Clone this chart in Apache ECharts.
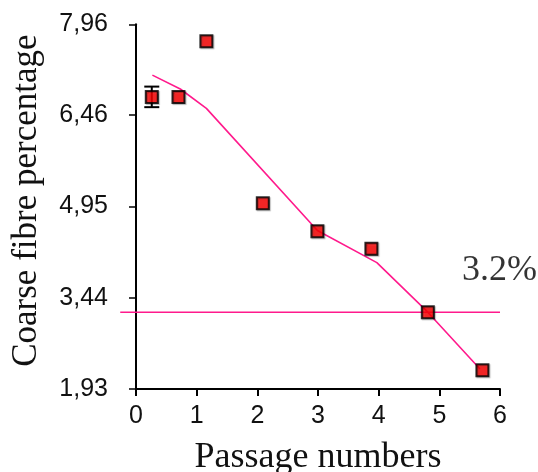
<!DOCTYPE html>
<html>
<head>
<meta charset="utf-8">
<script src="https://cdn.jsdelivr.net/npm/echarts@6/dist/echarts.min.js"></script>
<style>html,body{margin:0;padding:0;background:#fff;overflow:hidden;}#c{width:538px;height:472px;}</style>
</head>
<body>
<div id="c"></div>
<script>
// Data
const passageX = [0.26, 0.70, 1.16, 2.09, 2.99, 3.88, 4.81, 5.71];
const coarsePct = [6.76, 6.76, 7.68, 5.00, 4.54, 4.25, 3.20, 2.24];
const errorPct  = [0.17, 0, 0, 0, 0, 0, 0, 0];
const trendX = [0.27, 0.73, 1.16, 2.99, 3.97, 4.81, 5.67];
const trendY = [7.12, 6.89, 6.57, 4.55, 4.02, 3.20, 2.26];
const thresholdValue = 3.2;
const thresholdX = [-0.26, 6];
const thresholdLabel = '3.2%';
const yTicks = [1.93, 3.44, 4.95, 6.46, 7.96];
const xTicks = [0, 1, 2, 3, 4, 5, 6];

const pink = '#ff1a8c';
const chart = echarts.init(document.getElementById('c'), null, {renderer: 'canvas'});
const pts = passageX.map((x, i) => [x, coarsePct[i]]);
const errData = passageX.map((x, i) => [x, coarsePct[i] - errorPct[i], coarsePct[i] + errorPct[i]]).filter((d, i) => errorPct[i] > 0);

chart.setOption({
  animation: false,
  backgroundColor: '#fff',
  grid: {left: 136, right: 38, top: 24.3, bottom: 83, containLabel: false, outerBoundsMode: 'none'},
  xAxis: {
    type: 'value', min: xTicks[0], max: xTicks[xTicks.length - 1], interval: 1,
    splitLine: {show: false},
    axisLine: {show: true, lineStyle: {color: '#000', width: 2}},
    axisTick: {show: true, length: 7, lineStyle: {color: '#000', width: 2}},
    axisLabel: {color: '#111', fontFamily: 'Liberation Sans', fontSize: 25, margin: 15},
    name: 'Passage numbers', nameLocation: 'middle', nameGap: 51,
    nameTextStyle: {color: '#111', fontFamily: 'Liberation Serif', fontSize: 36}
  },
  yAxis: {
    type: 'value', min: yTicks[0], max: yTicks[yTicks.length - 1], interval: yTicks[1] - yTicks[0],
    offset: 16,
    splitLine: {show: false},
    axisLine: {show: true, lineStyle: {color: '#000', width: 2}},
    axisTick: {show: true, length: 7, lineStyle: {color: '#000', width: 1.5}},
    axisLabel: {color: '#111', fontFamily: 'Liberation Sans', fontSize: 25, margin: 12,
      formatter: v => v.toFixed(2).replace('.', ',')},
    name: 'Coarse fibre percentage', nameLocation: 'middle', nameGap: 76, nameRotate: 90,
    nameTextStyle: {color: '#111', fontFamily: 'Liberation Serif', fontSize: 35, padding: [0, 0, 0, 12]}
  },
  series: [
    {
      type: 'custom', z: 2, clip: false,
      data: [[thresholdX[0], thresholdX[1], thresholdValue]],
      renderItem: (params, api) => {
        const a = api.coord([api.value(0), api.value(2)]);
        const b = api.coord([api.value(1), api.value(2)]);
        return {type: 'line', shape: {x1: a[0], y1: a[1], x2: b[0], y2: b[1]},
          style: {stroke: pink, lineWidth: 1.6}};
      }
    },
    {
      type: 'line', data: trendX.map((x, i) => [x, trendY[i]]),
      symbol: 'none', lineStyle: {color: pink, width: 1.6}, z: 3
    },
    {
      type: 'custom', z: 4,
      data: errData,
      renderItem: (params, api) => {
        const x = api.value(0);
        const lo = api.coord([x, api.value(1)]);
        const hi = api.coord([x, api.value(2)]);
        const hw = 7.5;
        const style = {stroke: '#000', lineWidth: 2};
        return {type: 'group', children: [
          {type: 'line', shape: {x1: lo[0], y1: lo[1], x2: hi[0], y2: hi[1]}, style},
          {type: 'line', shape: {x1: lo[0] - hw, y1: lo[1], x2: lo[0] + hw, y2: lo[1]}, style},
          {type: 'line', shape: {x1: hi[0] - hw, y1: hi[1], x2: hi[0] + hw, y2: hi[1]}, style}
        ]};
      }
    },
    {
      type: 'scatter', data: pts, symbol: 'rect', symbolSize: 12, z: 5,
      itemStyle: {color: '#ff0000', borderColor: '#000', borderWidth: 2,
        shadowColor: 'rgba(0,0,0,0.35)', shadowBlur: 1, shadowOffsetX: 1, shadowOffsetY: 1}
    },
    {
      type: 'scatter', data: [[6, thresholdValue]], symbolSize: 0, silent: true, z: 6,
      label: {show: true, formatter: thresholdLabel, position: 'insideRight', offset: [42, -42],
        color: '#000', fontFamily: 'Liberation Serif', fontSize: 36, align: 'right'}
    }
  ]
});
</script>
</body>
</html>
